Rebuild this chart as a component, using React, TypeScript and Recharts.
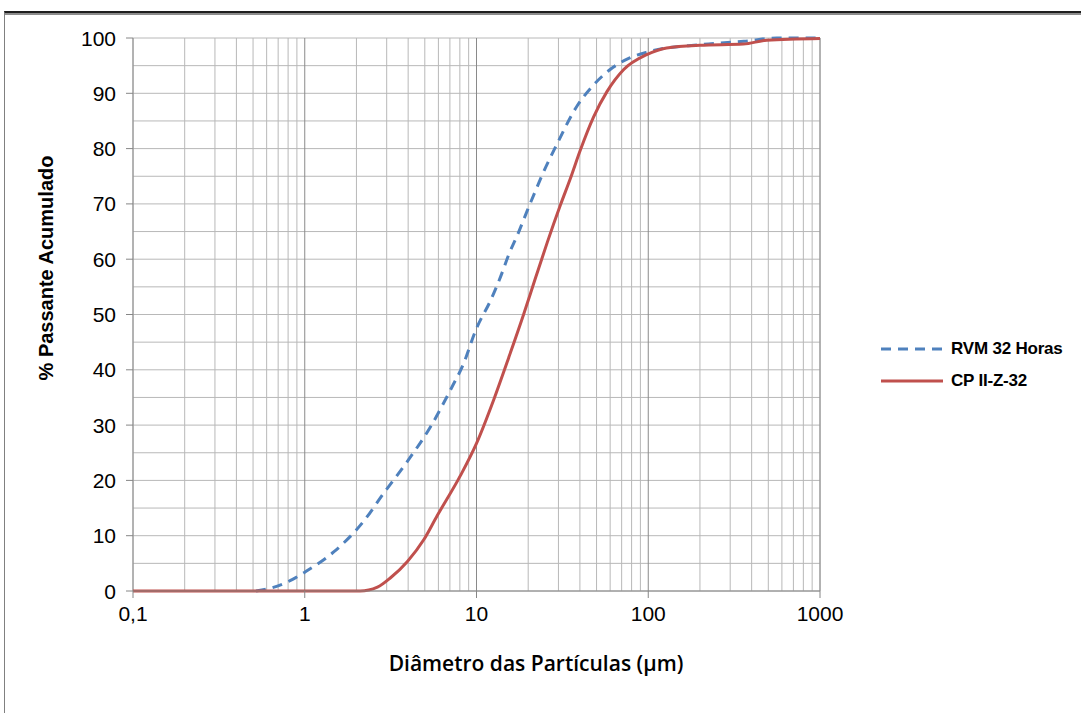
import React from "react";
import { LineChart, Line, XAxis, YAxis, CartesianGrid, Label } from "recharts";

// particle size (µm) and cumulative passing (%)
const rvmSize = [0.52, 0.63, 0.85, 1, 1.48, 2.2, 2.9, 3.95, 5.4, 7.2, 8.3, 10, 12.1, 13.8, 15.4, 17.6, 19.7, 22, 24.1, 29.4, 38.5, 48, 60, 78, 100, 200, 360, 560, 1000];
const rvmPct = [0, 0.5, 2.1, 3.4, 7.1, 12.6, 17.8, 23.4, 29.7, 36.9, 40.7, 47.5, 52.6, 56.8, 60.8, 64.9, 68.7, 72.3, 75.2, 80.8, 87.7, 91.5, 94.3, 96.4, 97.5, 98.8, 99.4, 100, 100];

const cpSize = [0.1, 2.1, 2.65, 3.16, 3.95, 4.94, 5.9, 8.07, 10, 12.6, 15.4, 18.8, 22, 25.8, 30.8, 35.2, 40.2, 48, 57.5, 72, 98, 128, 200, 358, 490, 1000];
const cpPct = [0, 0, 0.7, 2.4, 5.3, 9.3, 13.6, 20.9, 26.7, 34.6, 42.2, 50.0, 56.5, 63.0, 69.8, 74.6, 79.7, 85.7, 90.3, 94.3, 97, 98.2, 98.7, 98.9, 99.6, 99.9];

const xTicks = [0.1, 1, 10, 100, 1000];
const xMinor = [0.2, 0.3, 0.4, 0.5, 0.6, 0.7, 0.8, 0.9, 2, 3, 4, 5, 6, 7, 8, 9, 20, 30, 40, 50, 60, 70, 80, 90, 200, 300, 400, 500, 600, 700, 800, 900];
// gridlines every 5, labels only every 10
const yTicks = [0, 5, 10, 15, 20, 25, 30, 35, 40, 45, 50, 55, 60, 65, 70, 75, 80, 85, 90, 95, 100];

const seriesNames = ["RVM 32 Horas", "CP II-Z-32"];
const BLUE = "#4F81BD";
const RED = "#C0504D";
const FONT = "'Liberation Sans', Arial, sans-serif";

const rvm = rvmSize.map((size, i) => ({ size, pct: rvmPct[i] }));
const cp = cpSize.map((size, i) => ({ size, pct: cpPct[i] }));

function YTick(props: any) {
  const { x, y, payload } = props;
  if (payload.value % 10 !== 0) return null;
  return (
    <g>
      <line x1={x + 10} y1={y} x2={x + 17} y2={y} stroke="#868686" strokeWidth={1} />
      <text x={x} y={y} textAnchor="end" dominantBaseline="central" fontFamily={FONT} fontSize={21} fill="#000">
        {payload.value}
      </text>
    </g>
  );
}

function LegendBox() {
  const rows = [
    { name: seriesNames[0], color: BLUE, dash: "10 7" },
    { name: seriesNames[1], color: RED, dash: undefined },
  ];
  return (
    <div style={{ position: "absolute", left: 881, top: 333, fontFamily: FONT, fontWeight: "bold", fontSize: 17 }}>
      {rows.map((r) => (
        <div key={r.name} style={{ display: "flex", alignItems: "center", height: 32 }}>
          <svg width={62} height={6} style={{ marginRight: 8 }}>
            <line x1={0} y1={3} x2={62} y2={3} stroke={r.color} strokeWidth={3} strokeDasharray={r.dash} />
          </svg>
          <span style={{ color: "#000", letterSpacing: -0.2 }}>{r.name}</span>
        </div>
      ))}
    </div>
  );
}

export default function App() {
  return (
    <div style={{ position: "fixed", left: 0, top: 0, width: 1081, height: 713, background: "#fff", overflow: "hidden" }}>
      <div style={{ position: "absolute", left: 4, top: 11, right: -10, bottom: -10, borderTop: "2px solid #1e1e1e", borderLeft: "1px solid #808080" }} />
      <div style={{ position: "absolute", left: 5, top: 13, right: 0, height: 2, background: "#8c8c8c" }} />
      <LineChart width={1081} height={713} margin={{ top: 38, right: 261, bottom: 0, left: 0 }}>
        <XAxis xAxisId="minor" dataKey="size" type="number" scale="log" domain={[0.1, 1000]} ticks={xMinor} interval={0} hide allowDataOverflow />
        <CartesianGrid xAxisId="minor" stroke="#b8b8b8" strokeWidth={1} />
        <CartesianGrid horizontal={false} stroke="#8a8a8a" strokeWidth={1} />
        <XAxis
          dataKey="size"
          type="number"
          scale="log"
          domain={[0.1, 1000]}
          ticks={xTicks}
          interval={0}
          allowDataOverflow
          height={122}
          tickSize={7}
          tickMargin={8}
          stroke="#868686"
          tick={{ fill: "#000", fontSize: 21, fontFamily: FONT }}
          tickFormatter={(v: number) => String(v).replace(".", ",")}
        >
          <Label
            content={() => (
              <text x={536} y={663} textAnchor="middle" dominantBaseline="central" fontFamily="'Open Sans', sans-serif" fontWeight={600} fontSize={21} fill="#000">
                Diâmetro das Partículas (µm)
              </text>
            )}
          />
        </XAxis>
        <YAxis
          type="number"
          domain={[0, 100]}
          ticks={yTicks}
          interval={0}
          width={133}
          axisLine={false}
          tickLine={false}
          tickSize={7}
          tickMargin={10}
          tick={<YTick />}
        >
          <Label
            content={() => (
              <text x={46} y={268} transform="rotate(-90, 46, 268)" textAnchor="middle" dominantBaseline="central" fontFamily={FONT} fontWeight="bold" fontSize={20} fill="#000">
                % Passante Acumulado
              </text>
            )}
          />
        </YAxis>
        <Line data={rvm} dataKey="pct" name={seriesNames[0]} type="monotone" stroke={BLUE} strokeWidth={3} strokeDasharray="10 7" dot={false} isAnimationActive={false} />
        <Line data={cp} dataKey="pct" name={seriesNames[1]} type="monotone" stroke={RED} strokeWidth={3} dot={false} isAnimationActive={false} />
      </LineChart>
      <LegendBox />
    </div>
  );
}
